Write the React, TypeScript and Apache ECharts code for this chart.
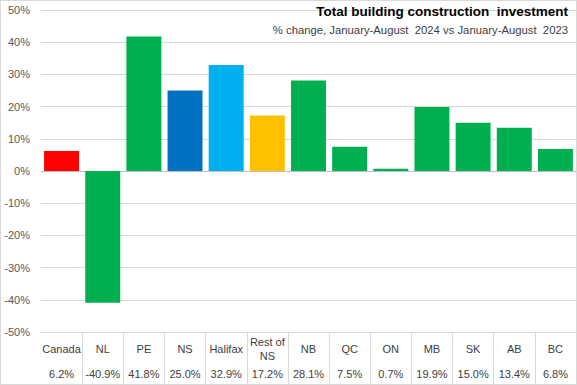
import React, { useEffect, useRef } from "react";
import * as echarts from "echarts";

const categories = ["Canada", "NL", "PE", "NS", "Halifax", "Rest of\nNS", "NB", "QC", "ON", "MB", "SK", "AB", "BC"];
const values = [6.2, -40.9, 41.8, 25.0, 32.9, 17.2, 28.1, 7.5, 0.7, 19.9, 15.0, 13.4, 6.8];
const barColors = ["#FF0000", "#00B050", "#00B050", "#0070C0", "#00B0F0", "#FFC000", "#00B050", "#00B050", "#00B050", "#00B050", "#00B050", "#00B050", "#00B050"];
const titleText = "Total building construction  investment";
const subtitleText = "% change, January-August  2024 vs January-August  2023";

const FONT = "'Liberation Sans Narrow', 'Liberation Sans', Arial, sans-serif";

export default function App() {
  const ref = useRef<HTMLDivElement>(null);
  useEffect(() => {
    if (!ref.current) return;
    const chart = echarts.init(ref.current, undefined, { renderer: "svg" });
    const grid = { left: 40, right: 0, top: 9, bottom: 52 };
    chart.setOption({
      animation: false,
      textStyle: { fontFamily: FONT },
      title: [
        {
          text: titleText,
          right: 8,
          top: 3,
          padding: 0,
          textStyle: { fontFamily: FONT, fontSize: 13.5, fontWeight: "bold", color: "#000000" },
        },
        {
          text: subtitleText,
          right: 8,
          top: 23,
          padding: 0,
          textStyle: { fontFamily: FONT, fontSize: 11.3, fontWeight: "normal", color: "#404040" },
        },
      ],
      grid,
      xAxis: [
        {
          type: "category",
          data: categories,
          position: "bottom",
          axisLine: { show: true, onZero: true, lineStyle: { color: "#BFBFBF" } },
          axisTick: { show: false },
          axisLabel: { show: false },
        },
        {
          type: "category",
          data: categories,
          position: "bottom",
          axisLine: { show: true, onZero: false, lineStyle: { color: "#D9D9D9" } },
          axisTick: {
            show: true,
            length: 52,
            interval: (i: number) => i !== 0,
            lineStyle: { color: "#D9D9D9" },
          },
          axisLabel: {
            interval: 0,
            margin: 17,
            verticalAlign: "middle",
            lineHeight: 14,
            fontSize: 11,
            color: "#404040",
            fontFamily: FONT,
          },
        },
        {
          type: "category",
          data: values.map((v) => v.toFixed(1) + "%"),
          position: "bottom",
          axisLine: { show: false, onZero: false },
          axisTick: { show: false },
          axisLabel: {
            interval: 0,
            margin: 42,
            verticalAlign: "middle",
            fontSize: 11,
            color: "#404040",
            fontFamily: FONT,
          },
        },
      ],
      yAxis: {
        type: "value",
        min: -50,
        max: 50,
        interval: 10,
        axisLine: { show: false },
        axisTick: { show: false },
        splitLine: { lineStyle: { color: "#D9D9D9" } },
        axisLabel: {
          formatter: (v: number) => `${v}%`,
          margin: 11,
          fontSize: 11,
          color: "#595959",
          fontFamily: FONT,
        },
      },
      series: [
        {
          type: "bar",
          xAxisIndex: 0,
          barCategoryGap: "15%",
          data: values.map((v, i) => ({ value: v, itemStyle: { color: barColors[i] } })),
        },
      ],
    });
    return () => chart.dispose();
  }, []);
  return (
    <div
      style={{
        position: "fixed",
        left: 0,
        top: 0,
        width: 577,
        height: 385,
        boxSizing: "border-box",
        border: "1px solid #D9D9D9",
        background: "#fff",
      }}
    >
      <div ref={ref} style={{ width: 575, height: 383 }} />
    </div>
  );
}
